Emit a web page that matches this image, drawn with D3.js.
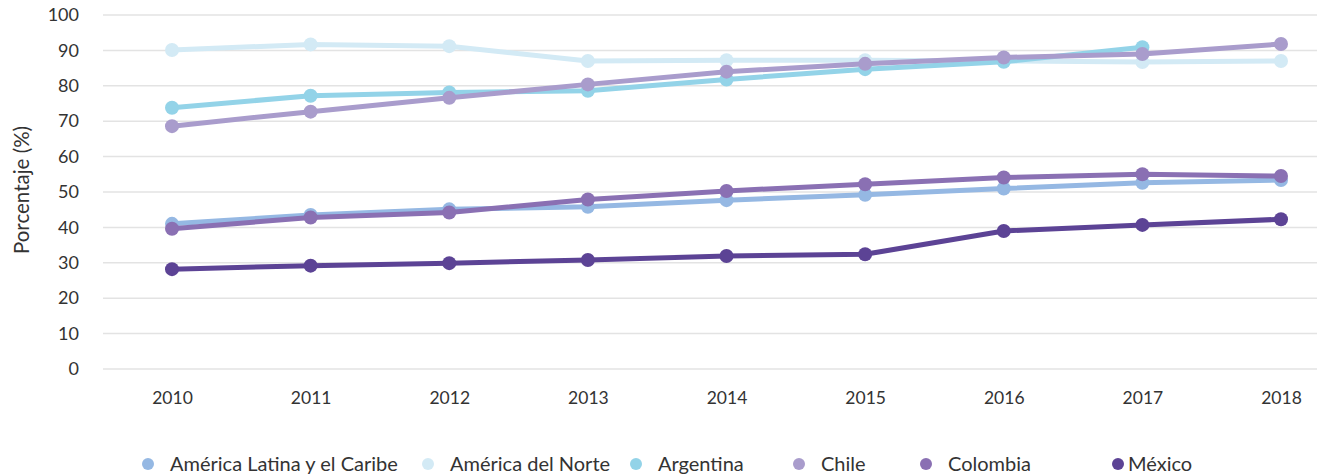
<!DOCTYPE html>
<html>
<head>
<meta charset="utf-8">
<script src="https://cdn.jsdelivr.net/npm/d3@7"></script>
<style>
    body { margin: 0; background: #fff; }
    svg { display: block; font-family: Lato, "Open Sans", sans-serif; }
</style>
</head>
<body>
<svg id="chart" width="1318" height="475"></svg>
<script>
const years = ["2010", "2011", "2012", "2013", "2014", "2015", "2016", "2017", "2018"]
const yTicks = [0, 10, 20, 30, 40, 50, 60, 70, 80, 90, 100]

const seriesNames = ["América Latina y el Caribe", "América del Norte", "Argentina", "Chile", "Colombia", "México"]
const seriesColors = ["#95b8e3", "#d3eaf5", "#93d3e8", "#a99ccc", "#8a70b3", "#5c4395"]

const alc = [41.0, 43.5, 45.1, 45.8, 47.7, 49.2, 51.0, 52.6, 53.4]
const norte = [90.1, 91.7, 91.2, 87.0, 87.2, 87.2, 87.0, 86.7, 87.0]
const argentina = [73.8, 77.2, 78.1, 78.6, 81.8, 84.7, 86.8, 90.9, null]
const chile = [68.6, 72.7, 76.6, 80.4, 84.0, 86.2, 88.0, 89.0, 91.8]
const colombia = [39.6, 42.8, 44.2, 47.9, 50.3, 52.2, 54.1, 55.0, 54.5]
const mexico = [28.2, 29.2, 29.9, 30.8, 31.9, 32.4, 39.0, 40.7, 42.3]

const seriesValues = [alc, norte, argentina, chile, colombia, mexico]

// legend layout (circle x per item)
const legendX = [148, 428, 636, 799, 926, 1118]

const svg = d3.select("#chart")

const x = d3.scalePoint().domain(years).range([172, 1281])
const y = d3.scaleLinear().domain([0, 100]).range([369, 15])

// grid
svg.append("g")
    .selectAll("line")
    .data(yTicks)
    .join("line")
    .attr("x1", 103)
    .attr("x2", 1317)
    .attr("y1", (d) => y(d))
    .attr("y2", (d) => y(d))
    .attr("stroke", "#e3e3e3")
    .attr("stroke-width", 1.5)

// y axis
const yAxis = svg.append("g")
    .attr("transform", "translate(103,0)")
    .call(d3.axisLeft(y).tickValues(yTicks).tickSize(0).tickPadding(24))
yAxis.select(".domain").remove()
yAxis.selectAll("text")
    .attr("font-size", 18)
    .attr("font-family", "Lato, sans-serif")
    .attr("fill", "#333")

// x axis
const xAxis = svg.append("g")
    .attr("transform", "translate(0,369)")
    .call(d3.axisBottom(x).tickSize(0).tickPadding(23))
xAxis.select(".domain").remove()
xAxis.selectAll("text")
    .attr("font-size", 17.5)
    .attr("font-family", "Lato, sans-serif")
    .attr("fill", "#333")

svg.append("text")
    .attr("transform", "translate(29,190) rotate(-90)")
    .attr("text-anchor", "middle")
    .attr("font-size", 20.5)
    .attr("fill", "#333")
    .text("Porcentaje (%)")

const line = d3.line()
    .defined((d) => d != null)
    .x((d, i) => x(years[i]))
    .y((d) => y(d))

seriesValues.forEach((vals, s) => {
    const g = svg.append("g")
    g.append("path")
        .datum(vals)
        .attr("fill", "none")
        .attr("stroke", seriesColors[s])
        .attr("stroke-width", 5)
        .attr("stroke-linejoin", "round")
        .attr("d", line)
    g.selectAll("circle")
        .data(vals.map((v, i) => [years[i], v]).filter((d) => d[1] != null))
        .join("circle")
        .attr("cx", (d) => x(d[0]))
        .attr("cy", (d) => y(d[1]))
        .attr("r", 7)
        .attr("fill", seriesColors[s])
})

// legend
const legend = svg.append("g")
    .selectAll("g")
    .data(seriesNames)
    .join("g")
    .attr("transform", (d, i) => `translate(${legendX[i]},464)`)
legend.append("circle")
    .attr("r", 6)
    .attr("fill", (d, i) => seriesColors[i])
legend.append("text")
    .attr("x", (d, i) => (i === 5 ? 10 : 22))
    .attr("dy", "0.35em")
    .attr("font-size", 20)
    .attr("fill", "#333")
    .text((d) => d)
</script>
</body>
</html>
